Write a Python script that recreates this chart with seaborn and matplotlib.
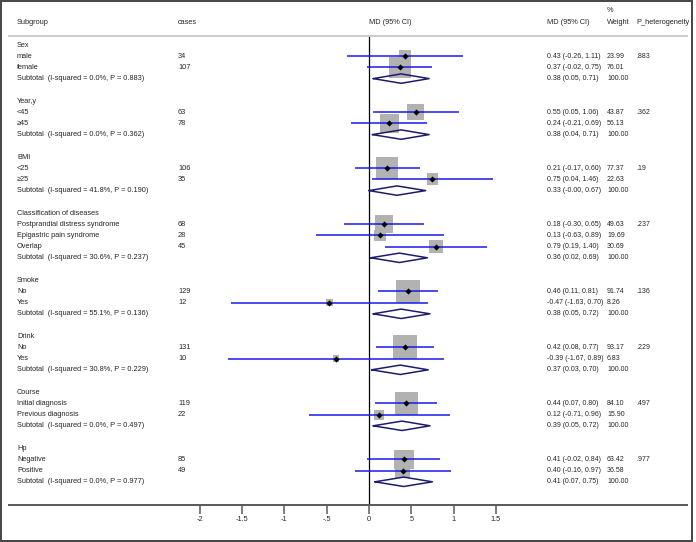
import numpy as np
import pandas as pd
import seaborn as sns
import matplotlib.pyplot as plt
from matplotlib.patches import Rectangle

# subgroup data
group_names = ['Sex', 'Year,y', 'BMI', 'Classification of diseases',
               'Smoke', 'Drink', 'Course', 'Hp']
item_group = [0, 0, 1, 1, 2, 2, 3, 3, 3, 4, 4, 5, 5, 6, 6, 7, 7]
item_labels = ['male', 'female', '<45', '\u226545', '<25', '\u226525',
               'Postprandial distress syndrome', 'Epigastric pain syndrome', 'Overlap',
               'No', 'Yes', 'No', 'Yes', 'Initial diagnosis', 'Previous diagnosis',
               'Negative', 'Positive']
item_cases = [34, 107, 63, 78, 106, 35, 68, 28, 45, 129, 12, 131, 10, 119, 22, 85, 49]
item_md = [0.43, 0.37, 0.55, 0.24, 0.21, 0.75, 0.18, 0.13, 0.79,
           0.46, -0.47, 0.42, -0.39, 0.44, 0.12, 0.41, 0.40]
item_lo = [-0.26, -0.02, 0.05, -0.21, -0.17, 0.04, -0.30, -0.63, 0.19,
           0.11, -1.63, 0.08, -1.67, 0.07, -0.71, -0.02, -0.16]
item_hi = [1.11, 0.75, 1.06, 0.69, 0.60, 1.46, 0.65, 0.89, 1.40,
           0.81, 0.70, 0.77, 0.89, 0.80, 0.96, 0.84, 0.97]
item_weight = [23.99, 76.01, 43.87, 56.13, 77.37, 22.63, 49.63, 19.69, 30.69,
               91.74, 8.26, 93.17, 6.83, 84.10, 15.90, 63.42, 36.58]

sub_md = [0.38, 0.38, 0.33, 0.36, 0.38, 0.37, 0.39, 0.41]
sub_lo = [0.05, 0.04, -0.0, 0.02, 0.05, 0.03, 0.05, 0.07]
sub_hi = [0.71, 0.71, 0.67, 0.69, 0.72, 0.70, 0.72, 0.75]
sub_i2 = [0.0, 0.0, 41.8, 30.6, 55.1, 30.8, 0.0, 0.0]
sub_p = [0.883, 0.362, 0.190, 0.237, 0.136, 0.229, 0.497, 0.977]
p_het = ['.883', '.362', '.19', '.237', '.136', '.229', '.497', '.977']

x_ticks = [-2, -1.5, -1, -0.5, 0, 0.5, 1, 1.5]
x_tick_labels = ['-2', '-1.5', '-1', '-.5', '0', '.5', '1', '1.5']

# lay out rows: header, items, subtotal, blank
item_row, sub_row, head_row = [], [], []
r = 0
for g, name in enumerate(group_names):
    head_row.append(r)
    r += 1
    for i in range(len(item_group)):
        if item_group[i] == g:
            item_row.append(r)
            r += 1
    sub_row.append(r)
    r += 2
axis_row = r + 0.05

items = pd.DataFrame({'row': item_row, 'md': item_md, 'lo': item_lo,
                      'hi': item_hi, 'weight': item_weight})

sns.set_style('white')
plt.rcParams['font.family'] = ['Liberation Sans', 'DejaVu Sans']
fs = 5.3
fs_ci = 5.0

W, H = 696, 542
fig = plt.figure(figsize=(W / 100, H / 100), dpi=100)
ax = fig.add_axes([0, 0, 1, 1])
px_unit = 84.6
x0 = 369
ax.set_xlim(-x0 / px_unit, (W - x0) / px_unit)
row_px = 11.2
y0 = 45
ax.set_ylim((H - y0) / row_px, -y0 / row_px)
ax.axis('off')

# weight squares
sns.scatterplot(data=items, x='md', y='row', marker='s', s=3.2 * items['weight'],
                color='#b2b2b2', linewidth=0, ax=ax, zorder=2, legend=False)
# confidence intervals
ax.hlines(items['row'], items['lo'], items['hi'], color='#1a1aee', lw=1.1, zorder=3)
# point estimates
sns.scatterplot(data=items, x='md', y='row', marker='D', s=10, color='black',
                linewidth=0, ax=ax, zorder=4, legend=False)

# subtotal diamonds
for g in range(len(group_names)):
    yy = sub_row[g]
    dx = [sub_lo[g], sub_md[g], sub_hi[g], sub_md[g], sub_lo[g]]
    dy = [yy, yy - 0.42, yy, yy + 0.42, yy]
    ax.plot(dx, dy, color='#1c1c6b', lw=1.1, zorder=3)

# null line
ax.vlines(0, -0.8, axis_row, color='black', lw=0.9, zorder=1)

# header and axis lines
left = ax.get_xlim()[0]
ax.hlines(-0.8, left + 8 / px_unit, left + 688 / px_unit, color='#c4c4c4', lw=1.2)
ax.hlines(axis_row, left + 8 / px_unit, left + 688 / px_unit, color='#5a5a5a', lw=1.4)
ax.vlines(x_ticks, axis_row, axis_row + 0.8, color='#5a5a5a', lw=1.1)
for t, lab in zip(x_ticks, x_tick_labels):
    ax.text(t, axis_row + 1.35, lab, ha='center', va='center', fontsize=fs)

# text columns (x in axes fraction, y in rows)
tr = ax.get_yaxis_transform()
col_label = 17 / W
col_cases = 178 / W
col_ci = 547 / W
col_w = 607 / W
col_p = 636 / W
head_y = -2.05

ax.text(col_label, head_y, 'Subgroup', transform=tr, fontsize=fs, va='center')
ax.text(col_cases, head_y, 'cases', transform=tr, fontsize=fs, va='center')
ax.text(369 / W, head_y, 'MD (95% CI)', transform=tr, fontsize=fs, va='center')
ax.text(col_ci, head_y, 'MD (95% CI)', transform=tr, fontsize=fs, va='center')
ax.text(col_w, head_y - 1.0, '%', transform=tr, fontsize=fs, va='center')
ax.text(col_w, head_y, 'Weight', transform=tr, fontsize=fs, va='center')
ax.text(col_p, head_y, 'P_heterogeneity', transform=tr, fontsize=fs, va='center')

for g, name in enumerate(group_names):
    ax.text(col_label, head_row[g], name, transform=tr, fontsize=fs, va='center')
    ax.text(col_label, sub_row[g],
            f'Subtotal  (I-squared = {sub_i2[g]:.1f}%, P = {sub_p[g]:.3f})',
            transform=tr, fontsize=fs, va='center')
    ax.text(col_ci, sub_row[g], f'{sub_md[g]:.2f} ({sub_lo[g]:.2f}, {sub_hi[g]:.2f})',
            transform=tr, fontsize=fs_ci, va='center')
    ax.text(col_w, sub_row[g], '100.00', transform=tr, fontsize=fs_ci, va='center')
    first = item_row[item_group.index(g)]
    ax.text(col_p, first, p_het[g], transform=tr, fontsize=fs_ci, va='center')

for i in range(len(item_labels)):
    yy = item_row[i]
    ax.text(col_label, yy, item_labels[i], transform=tr, fontsize=fs, va='center')
    ax.text(col_cases, yy, str(item_cases[i]), transform=tr, fontsize=fs, va='center')
    ax.text(col_ci, yy, f'{item_md[i]:.2f} ({item_lo[i]:.2f}, {item_hi[i]:.2f})',
            transform=tr, fontsize=fs_ci, va='center')
    ax.text(col_w, yy, f'{item_weight[i]:.2f}', transform=tr, fontsize=fs_ci, va='center')

fig.patches.append(Rectangle((1 / W, 1 / H), 691 / W, 540 / H, transform=fig.transFigure,
                             fill=False, ec='#444444', lw=1.4))

fig.savefig('out.png', dpi=100)
